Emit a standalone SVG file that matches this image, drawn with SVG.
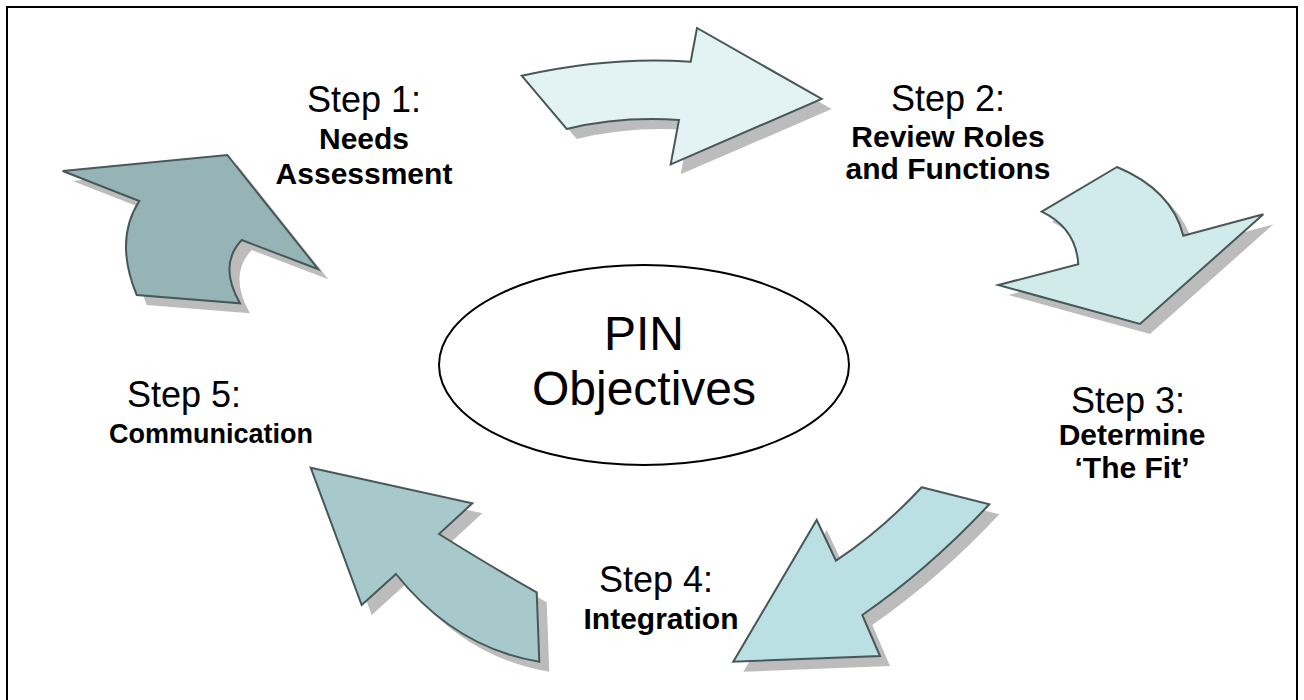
<svg xmlns="http://www.w3.org/2000/svg" width="1304" height="700" viewBox="0 0 1304 700">
<defs>
<style>
.shadow{fill:#bcbcbc;stroke:none}
.arrow{stroke:#485858;stroke-width:2;stroke-linejoin:miter}
.reg{font-family:"Liberation Sans",Arial,sans-serif;font-size:36px;fill:#000;text-anchor:middle}
.bold{font-family:"Liberation Sans",Arial,sans-serif;font-size:30px;font-weight:bold;fill:#000;text-anchor:middle}
.big{font-family:"Liberation Sans",Arial,sans-serif;font-size:48px;fill:#000;text-anchor:middle}
</style>
<path id="a1" d="M521.7,75.7 Q610,56 690.7,61.7 L697,28 L821.7,99 L670.7,164.3 L679,120 Q620,116 566.7,129 Z"/>
<path id="a2" d="M1041.7,211.7 L1117,167 Q1172,190 1183.3,235.7 L1263.3,214.3 L1140,324 L998.3,285 L1078.3,264.3 Q1076,228 1041.7,211.7 Z"/>
<path id="a3" d="M921.7,487.3 L989.3,504.3 Q930,568 862.3,615 L880,656 L733.3,661.7 L816.7,520 L836,560.7 Q882,530 921.7,487.3 Z"/>
<path id="a4" d="M310.7,467.7 L472.3,503.3 L439,534 Q490,566 536.7,592.3 L539.3,661.7 Q455,648 396,574 L361.7,605 Z"/>
<path id="a5" d="M62.7,171 L227.3,155 L318.3,269.3 L241.7,240 Q218,265 240,303.3 L136.7,295 Q114,240 139.3,201 Z"/>
</defs>
<rect x="7" y="7" width="1290" height="700" fill="#fff" stroke="#000" stroke-width="2"/>
<g id="connectors">
<g id="arrow1"><use href="#a1" class="shadow" transform="translate(10,10)"/><use href="#a1" class="arrow" fill="#e3f3f4"/></g>
<g id="arrow2"><use href="#a2" class="shadow" transform="translate(10,10)"/><use href="#a2" class="arrow" fill="#d1eaec"/></g>
<g id="arrow3"><use href="#a3" class="shadow" transform="translate(10,10)"/><use href="#a3" class="arrow" fill="#bbe0e3"/></g>
<g id="arrow4"><use href="#a4" class="shadow" transform="translate(10,10)"/><use href="#a4" class="arrow" fill="#a8c9cb"/></g>
<g id="arrow5"><use href="#a5" class="shadow" transform="translate(10,10)"/><use href="#a5" class="arrow" fill="#96b4b5"/></g>
</g>
<g id="center">
<ellipse cx="644" cy="365" rx="205" ry="100" fill="#fff" stroke="#000" stroke-width="2"/>
<text class="big" x="644" y="350">PIN</text>
<text class="big" x="644" y="405">Objectives</text>
</g>
<g id="step1">
<text class="reg" x="364" y="112">Step 1:</text>
<text class="bold" x="364" y="149">Needs</text>
<text class="bold" x="364" y="184">Assessment</text>
</g>
<g id="step2">
<text class="reg" x="948" y="111">Step 2:</text>
<text class="bold" x="948" y="147">Review Roles</text>
<text class="bold" x="948" y="179">and Functions</text>
</g>
<g id="step3">
<text class="reg" x="1128" y="413">Step 3:</text>
<text class="bold" x="1132" y="445">Determine</text>
<text class="bold" x="1132" y="478">‘The Fit’</text>
</g>
<g id="step4">
<text class="reg" x="656" y="592">Step 4:</text>
<text class="bold" x="661" y="629">Integration</text>
</g>
<g id="step5">
<text class="reg" x="184" y="407">Step 5:</text>
<text class="bold" x="211" y="443" style="font-size:27px">Communication</text>
</g>
</svg>
